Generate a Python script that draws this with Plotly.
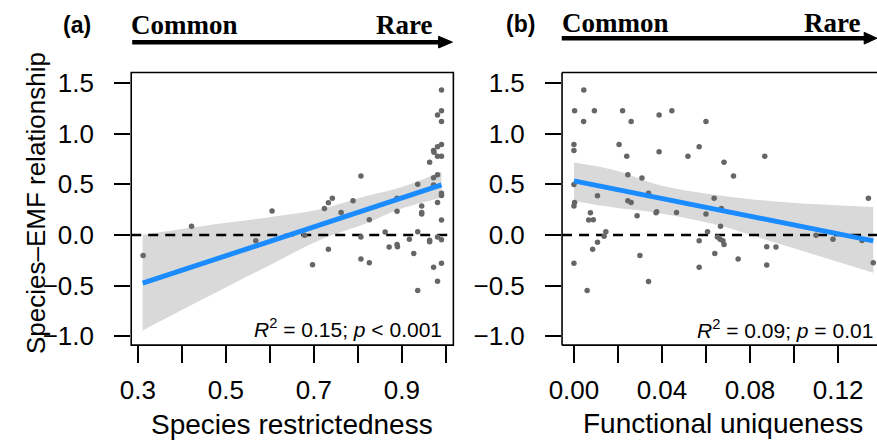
import plotly.graph_objects as go

W, H = 877, 446

# ---------------- data ----------------
restr_x = [0.312, 0.422, 0.605, 0.568, 0.679, 0.697, 0.724, 0.733, 0.742, 0.733,
           0.762, 0.789, 0.807, 0.807, 0.807, 0.826, 0.826, 0.862, 0.871, 0.889,
           0.889, 0.889, 0.890, 0.917, 0.927, 0.936, 0.936, 0.936, 0.945, 0.945,
           0.945, 0.963, 0.963, 0.963, 0.972, 0.973, 0.972, 0.972, 0.972, 0.981,
           0.981, 0.981, 0.981, 0.981, 0.981, 0.981, 0.990, 0.990, 0.990, 0.990,
           0.990, 0.990, 0.990, 0.990, 0.990, 0.990]
restr_y = [-0.203, 0.087, 0.237, -0.058, -0.004, -0.293, 0.260, 0.318, 0.363, -0.142,
           0.222, 0.337, 0.581, -0.020, -0.238, 0.151, -0.273, 0.029, -0.119, 0.363,
           0.234, -0.094, -0.116, -0.042, -0.183, 0.501, 0.032, -0.547, 0.286, 0.222,
           0.206, 0.716, -0.052, -0.068, 0.832, 0.816, 0.565, 0.492, -0.318, 1.182,
           0.871, 0.777, 0.594, 0.321, -0.021, -0.457, 1.430, 1.225, 1.119, 0.893,
           0.777, 0.411, 0.388, 0.148, -0.048, -0.280]

uniq_x = [0.0045, 0.0003, 0.0093, 0.0044, 0.0221, 0.0260, 0.0387, 0.0445, 0.0600, 0.0000,
          0.0000, 0.0205, 0.0240, 0.0387, 0.0518, 0.0569, 0.0682, 0.0867, 0.0725, 0.0245,
          0.0309, 0.0000, 0.0107, 0.0339, 0.0003, 0.0000, 0.0245, 0.0260, 0.0075, 0.0067,
          0.0088, 0.0287, 0.0376, 0.0373, 0.0466, 0.0637, 0.0600, 0.0670, 0.0666, 0.0145,
          0.0137, 0.0107, 0.0085, 0.0000, 0.0060, 0.0300, 0.0339, 0.0569, 0.0569, 0.0607,
          0.0640, 0.0652, 0.0664, 0.0677, 0.0682, 0.0746, 0.0876, 0.0918, 0.0876, 0.1100,
          0.1177, 0.1309, 0.1338, 0.1360]
uniq_y = [1.430, 1.225, 1.225, 1.119, 1.225, 1.119, 1.182, 1.225, 1.119, 0.893,
          0.832, 0.893, 0.777, 0.820, 0.777, 0.871, 0.716, 0.777, 0.581, 0.594,
          0.562, 0.498, 0.386, 0.411, 0.321, 0.286, 0.337, 0.321, 0.218, 0.148,
          0.151, 0.189, 0.228, 0.218, 0.222, 0.363, 0.206, 0.260, 0.087, 0.032,
          -0.013, -0.071, -0.142, -0.280, -0.547, -0.203, -0.460, -0.058, -0.318, 0.032,
          -0.183, -0.020, -0.042, -0.058, -0.094, -0.238, -0.116, -0.119, -0.296, -0.004,
          -0.042, -0.055, 0.363, -0.273]

# fitted lines and confidence bands
fit_a_x = [0.311, 0.990]
fit_a_y = [-0.476, 0.495]
band_a_x = [0.311, 0.445, 0.594, 0.714, 0.818, 0.893, 0.990]
band_a_hi = [0.003, 0.087, 0.173, 0.254, 0.382, 0.463, 0.623]
band_a_lo = [-0.942, -0.640, -0.310, -0.050, 0.112, 0.250, 0.366]

fit_b_x = [0.0, 0.136]
fit_b_y = [0.533, -0.058]
band_b_x = [0.0, 0.0182, 0.039, 0.063, 0.0913, 0.136]
band_b_hi = [0.714, 0.640, 0.490, 0.400, 0.330, 0.276]
band_b_lo = [0.334, 0.270, 0.215, 0.110, -0.075, -0.373]

y_ticks = [-1.0, -0.5, 0.0, 0.5, 1.0, 1.5]
y_ticktext = ["\u22121.0", "\u22120.5", "0.0", "0.5", "1.0", "1.5"]
xa_label_ticks = [0.3, 0.5, 0.7, 0.9]
xa_label_text = ["0.3", "0.5", "0.7", "0.9"]
xa_all_ticks = [0.3, 0.4, 0.5, 0.6, 0.7, 0.8, 0.9, 1.0]
xb_label_ticks = [0.0, 0.04, 0.08, 0.12]
xb_label_text = ["0.00", "0.04", "0.08", "0.12"]
xb_all_ticks = [0.0, 0.02, 0.04, 0.06, 0.08, 0.10, 0.12]

xa_range = [0.285, 1.017]
xb_range = [-0.0054, 0.1377]
y_range = [-1.087, 1.603]

stat_a = "<i>R</i><sup>2</sup> = 0.15; <i>p</i> &lt; 0.001"
stat_b = "<i>R</i><sup>2</sup> = 0.09; <i>p</i> = 0.01"

# ---------------- styling ----------------
SANS = "Liberation Sans, Arial, Helvetica, sans-serif"
SERIF = "Liberation Serif, Times New Roman, serif"
PT_COL = "#666666"
LINE_COL = "#1a8cff"
BAND_COL = "#d9d9d9"


def px(x):
    return x / W


def py(y):
    return 1 - y / H


fig = go.Figure()

panels = [
    ("x", "y", restr_x, restr_y, fit_a_x, fit_a_y, band_a_x, band_a_lo, band_a_hi, xa_range),
    ("x2", "y2", uniq_x, uniq_y, fit_b_x, fit_b_y, band_b_x, band_b_lo, band_b_hi, xb_range),
]
for xa, ya, px_, py_, fx, fy, bx, blo, bhi, xr in panels:
    fig.add_trace(go.Scatter(x=bx, y=bhi, mode="lines", line=dict(width=0, shape="spline"),
                             xaxis=xa, yaxis=ya, hoverinfo="skip", showlegend=False))
    fig.add_trace(go.Scatter(x=bx, y=blo, mode="lines", line=dict(width=0, shape="spline"),
                             fill="tonexty", fillcolor=BAND_COL,
                             xaxis=xa, yaxis=ya, hoverinfo="skip", showlegend=False))
    fig.add_trace(go.Scatter(x=xr, y=[0, 0], mode="lines",
                             line=dict(color="black", width=2.5, dash="10px,7px"),
                             xaxis=xa, yaxis=ya, hoverinfo="skip", showlegend=False))
    fig.add_trace(go.Scatter(x=px_, y=py_, mode="markers",
                             marker=dict(color=PT_COL, size=5.5, line=dict(width=0)),
                             xaxis=xa, yaxis=ya, showlegend=False))
    fig.add_trace(go.Scatter(x=fx, y=fy, mode="lines",
                             line=dict(color=LINE_COL, width=5),
                             xaxis=xa, yaxis=ya, showlegend=False))

ydom = [py(349), py(70)]
axis_common = dict(showgrid=False, zeroline=False, showline=False,
                   ticks="outside", tickcolor="black", tickwidth=1.5,
                   tickfont=dict(family=SANS, size=26, color="black"))


def minor(vals, ln):
    return dict(tickmode="array", tickvals=vals, ticks="outside", ticklen=ln,
                tickwidth=1.5, tickcolor="black", showgrid=False)


fig.update_layout(
    width=W, height=H,
    margin=dict(l=0, r=0, t=0, b=0),
    paper_bgcolor="white", plot_bgcolor="white",
    showlegend=False,
    xaxis=dict(domain=[px(120), px(447)], range=xa_range, anchor="y",
               tickmode="array", tickvals=xa_label_ticks, ticktext=xa_label_text,
               ticklen=17, ticklabelstandoff=5, minor=minor(xa_all_ticks, 17), **axis_common),
    yaxis=dict(domain=ydom, range=y_range, anchor="x",
               tickmode="array", tickvals=y_ticks, ticktext=y_ticktext, ticklen=16,
               ticklabelstandoff=15, **axis_common),
    xaxis2=dict(domain=[px(557.3), 1.0], range=xb_range, anchor="y2",
                tickmode="array", tickvals=xb_label_ticks, ticktext=xb_label_text,
                ticklen=17, ticklabelstandoff=5, minor=minor(xb_all_ticks, 17), **axis_common),
    yaxis2=dict(domain=ydom, range=y_range, anchor="x2",
                tickmode="array", tickvals=y_ticks, ticktext=y_ticktext, ticklen=16,
                ticklabelstandoff=15, **axis_common),
)

shapes = []
# plot frames
shapes.append(dict(type="rect", xref="paper", yref="paper",
                   x0=px(120), x1=px(447), y0=py(349), y1=py(70),
                   line=dict(color="black", width=1.6), layer="above"))
for (x0, y0, x1, y1) in [(557.3, 70, 880, 70), (557.3, 70, 557.3, 349), (557.3, 349, 880, 349)]:
    shapes.append(dict(type="line", xref="paper", yref="paper",
                       x0=px(x0), x1=px(x1), y0=py(y0), y1=py(y1),
                       line=dict(color="black", width=1.6), layer="above"))
# Common -> Rare arrows
for (xs, xe, ya) in [(121, 434, 39), (557, 866, 35)]:
    shapes.append(dict(type="line", xref="paper", yref="paper",
                       x0=px(xs), x1=px(xe), y0=py(ya), y1=py(ya),
                       line=dict(color="black", width=4.5)))
    tip = xe + 12 if xe + 12 <= W else W
    path = "M {:.5f},{:.5f} L {:.5f},{:.5f} L {:.5f},{:.5f} Z".format(
        px(xe - 2), py(ya - 6), px(tip), py(ya), px(xe - 2), py(ya + 6))
    shapes.append(dict(type="path", xref="paper", yref="paper", path=path,
                       fillcolor="black", line=dict(color="black", width=1)))
fig.update_layout(shapes=shapes)

ann = []


def add_text(text, x, y, size, family=SANS, xanchor="center", yanchor="middle", angle=0):
    ann.append(dict(text=text, x=px(x), y=py(y), xref="paper", yref="paper",
                    showarrow=False, xanchor=xanchor, yanchor=yanchor, textangle=angle,
                    font=dict(family=family, size=size, color="black")))


add_text("Species\u2013EMF relationship", 24, 204, 26, angle=-90)
add_text("Species restrictedness", 283.5, 430, 28)
add_text("Functional uniqueness", 721, 429, 28)
add_text(stat_a, 437, 331, 21, xanchor="right")
add_text(stat_b, 875, 332, 21, xanchor="right")
add_text("<b>(a)</b>", 65, 21, 23)
add_text("<b>(b)</b>", 515, 20, 23)
add_text("<b>Common</b>", 118, 21, 27, family=SERIF, xanchor="left")
add_text("<b>Rare</b>", 427, 21, 27, family=SERIF, xanchor="right")
add_text("<b>Common</b>", 555, 19, 27, family=SERIF, xanchor="left")
add_text("<b>Rare</b>", 862, 19, 27, family=SERIF, xanchor="right")
fig.update_layout(annotations=ann)

fig.write_html("out.html")
